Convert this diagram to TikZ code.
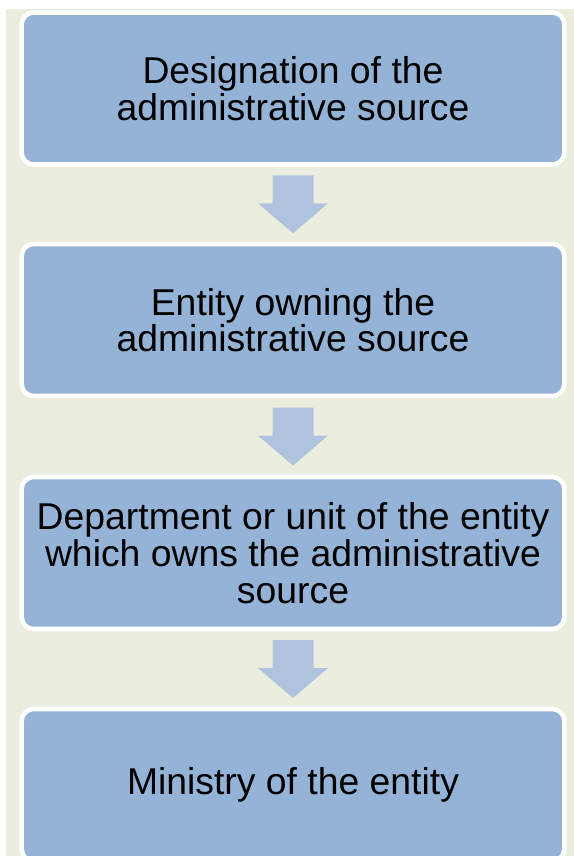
\documentclass[tikz,border=0pt]{standalone}
\usepackage{fontspec}
\setmainfont{Liberation Sans}
\usetikzlibrary{calc,positioning}
\definecolor{panelbg}{HTML}{EBEEDF}
\definecolor{boxblue}{HTML}{95B3D7}
\definecolor{arrowblue}{HTML}{B0C3DE}
\tikzset{
  panel/.style={fill=panelbg},                       % background panel
  stepbox/.style={draw=white,fill=boxblue,line width=3.4pt,rounded corners=9pt,
    minimum width=407pt,minimum height=114pt,align=center,
    font=\fontsize{28}{27.5}\selectfont},
  blockarrow/.style={fill=arrowblue},
}
\newcommand{\flowarrow}[2]{% from node, to node
  \coordinate (#1m) at ($(#1.south)!0.5!(#2.north)$);
  \fill[blockarrow] ($(#1m)+(-20.5,-29)$) -- ($(#1m)+(20.5,-29)$) -- ($(#1m)+(20.5,-1)$)
    -- ($(#1m)+(35,-1)$) -- ($(#1m)+(0,29)$) -- ($(#1m)+(-35,-1)$) -- ($(#1m)+(-20.5,-1)$) -- cycle;
}

\begin{document}
\begin{tikzpicture}[x=0.75pt,y=-0.75pt]
  \useasboundingbox (0,0) rectangle (574,856);
  \clip (0,0) rectangle (574,856);
  \fill[panel] (6,9) rectangle (574,856);
  \node[stepbox] (desig) at (293,88.5) {Designation of the\\administrative source};
  \node[stepbox] (owner) at (293,320) {Entity owning the\\administrative source};
  \node[stepbox] (dept) at (293,553) {Department or unit of the entity\\which owns the administrative\\source};
  \node[stepbox] (ministry) at (293,785) {Ministry of the entity};
  \flowarrow{desig}{owner}
  \flowarrow{owner}{dept}
  \flowarrow{dept}{ministry}
\end{tikzpicture}
\end{document}
